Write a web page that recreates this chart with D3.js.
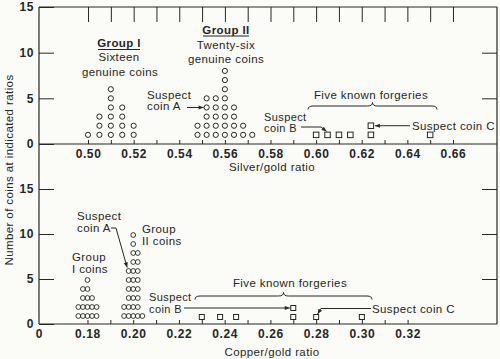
<!DOCTYPE html>
<html><head><meta charset="utf-8">
<script src="https://cdn.jsdelivr.net/npm/d3@7"></script>
<style>
body{margin:0;background:#fbfbf8}
text{font-family:"Liberation Sans",Arial,Helvetica,sans-serif;fill:#262626}
</style>
</head><body><svg id="c" width="500" height="359"></svg>
<script>
// ---------------- DATA ----------------
const countTicks = [0, 5, 10, 15];
const silverTickValues = [0.50,0.51,0.52,0.53,0.54,0.55,0.56,0.57,0.58,0.59,0.60,0.61,0.62,0.63,0.64,0.65,0.66];
const silverTickLabels = ["0.50","0.52","0.54","0.56","0.58","0.60","0.62","0.64","0.66"];
const copperTickValues = [0.18,0.19,0.20,0.21,0.22,0.23,0.24,0.25,0.26,0.27,0.28,0.29,0.30,0.31,0.32];
const copperTickLabels = ["0.18","0.20","0.22","0.24","0.26","0.28","0.30","0.32"];

// Silver/gold ratio (top panel)
const silverGroupIRatios  = [0.500, 0.505, 0.510, 0.515, 0.520];
const silverGroupICounts  = [1, 3, 6, 4, 2];
const silverGroupIIRatios = [0.548, 0.552, 0.556, 0.560, 0.564, 0.568, 0.572];
const silverGroupIICounts = [2, 5, 5, 8, 4, 2, 1];   // includes suspect coin A (0.552)
const silverForgeries     = [0.600, 0.610, 0.615, 0.624, 0.650];
const silverSuspectA = 0.552, silverSuspectB = 0.605, silverSuspectC = 0.624;

// Copper/gold ratio (bottom panel)
const copperGroupIRatios  = [0.176, 0.178, 0.180, 0.182, 0.184];
const copperGroupICounts  = [2, 4, 5, 3, 2];
const copperGroupIIRatios = [0.196, 0.198, 0.200, 0.202, 0.204];
const copperGroupIICounts = [2, 6, 10, 8, 1];        // includes suspect coin A (0.198)
const copperForgeries     = [0.230, 0.238, 0.245, 0.270, 0.300];
const copperSuspectA = 0.198, copperSuspectB = 0.270, copperSuspectC = 0.280;

// ---------------- LAYOUT ----------------
const ink = "#262626";
const L = 39, R = 497, T = 7;
const svg = d3.select("#c");

const defs = svg.append("defs");
defs.append("marker").attr("id","ah").attr("viewBox","0 0 6 6")
  .attr("refX",6).attr("refY",3).attr("markerWidth",6).attr("markerHeight",5)
  .attr("markerUnits","userSpaceOnUse").attr("orient","auto")
  .append("path").attr("d","M0,0.5 L6,3 L0,5.5 z").attr("fill",ink);

const xS = d3.scaleLinear().domain([0.4785, 0.6793]).range([L, R]);
const yS = d3.scaleLinear().domain([0, 15]).range([144, T]);
const xC = d3.scaleLinear().domain([0.1588, 0.3591]).range([L, R]);
const yC = d3.scaleLinear().domain([0, 15]).range([324, 189]);

function fmtLabel(labels){ return d => { const s = d.toFixed(2); return labels.includes(s) ? s : ""; }; }

function styleAxis(g){
  g.select(".domain").remove();
  g.selectAll(".tick line").attr("stroke", ink).attr("stroke-width", 1);
  g.selectAll(".tick text").style("font-family","'Liberation Sans',Arial,sans-serif")
    .style("font-weight","bold").style("font-size","12px").attr("fill", ink)
    .style("letter-spacing","0.6px");
}

// frame lines
const frame = svg.append("g").attr("stroke", ink).attr("stroke-width", 1.2).attr("fill","none");
frame.append("line").attr("x1",L).attr("x2",L).attr("y1",T).attr("y2",yC(0));
frame.append("line").attr("x1",R).attr("x2",R).attr("y1",T).attr("y2",yC(0));
frame.append("line").attr("x1",L).attr("x2",R).attr("y1",T).attr("y2",T);
frame.append("line").attr("x1",L).attr("x2",R).attr("y1",yS(0)).attr("y2",yS(0));
frame.append("line").attr("x1",L).attr("x2",R).attr("y1",yC(0)).attr("y2",yC(0));

// ---- top panel axes
svg.append("g").attr("transform",`translate(0,${T})`)
  .call(d3.axisTop(xS).tickValues(silverTickValues).tickSize(-15).tickFormat(""))
  .call(styleAxis);
svg.append("g").attr("transform",`translate(0,${yS(0)})`)
  .call(d3.axisBottom(xS).tickValues(silverTickValues).tickSizeInner(-4).tickSizeOuter(0).tickPadding(5)
    .tickFormat(fmtLabel(silverTickLabels)))
  .call(styleAxis);
svg.append("g").attr("transform",`translate(${L},0)`)
  .call(d3.axisLeft(yS).tickValues(countTicks).tickSizeInner(-15).tickSizeOuter(0).tickPadding(5))
  .call(styleAxis);
svg.append("g").attr("transform",`translate(${R},0)`)
  .call(d3.axisRight(yS).tickValues(countTicks.slice(1,3)).tickSizeInner(-15).tickSizeOuter(0).tickFormat(""))
  .call(styleAxis);

// ---- bottom panel axes
svg.append("g").attr("transform",`translate(0,${yC(0)})`)
  .call(d3.axisBottom(xC).tickValues(copperTickValues).tickSizeInner(-4).tickSizeOuter(0).tickPadding(5)
    .tickFormat(fmtLabel(copperTickLabels)))
  .call(styleAxis);
svg.append("g").attr("transform",`translate(${L},0)`)
  .call(d3.axisLeft(yC).tickValues(countTicks).tickSizeInner(-15).tickSizeOuter(0).tickPadding(5))
  .call(styleAxis);
svg.append("g").attr("transform",`translate(${R},0)`)
  .call(d3.axisRight(yC).tickValues(countTicks.slice(1)).tickSizeInner(-15).tickSizeOuter(0).tickFormat(""))
  .call(styleAxis);
// broken-axis origin label
svg.append("text").attr("x",L).attr("y",yC(0)+14).attr("text-anchor","middle")
  .style("font-weight","bold").style("font-size","12px").text("0");

// ---------------- MARKS ----------------
function columns(ratios, counts){
  const out = [];
  ratios.forEach((r,i) => { for (let k=1;k<=counts[i];k++) out.push({r, k}); });
  return out;
}
function squares(forg, suspects){
  const out = [], lvl = {};
  forg.concat(suspects).forEach(r => { const key=r.toFixed(3); lvl[key]=(lvl[key]||0)+1; out.push({r,k:lvl[key]}); });
  return out;
}

const dotsTop = columns(silverGroupIRatios, silverGroupICounts).concat(columns(silverGroupIIRatios, silverGroupIICounts));
svg.append("g").selectAll("circle").data(dotsTop).join("circle")
  .attr("cx", d=>xS(d.r)).attr("cy", d=>yS(d.k)).attr("r", 2.6)
  .attr("fill","none").attr("stroke",ink).attr("stroke-width",1);

const sqTop = squares(silverForgeries, [silverSuspectB, silverSuspectC]);
const sqT = 5.5;
svg.append("g").selectAll("rect").data(sqTop).join("rect")
  .attr("x", d=>xS(d.r)-sqT/2).attr("y", d=>yS(d.k)-sqT/2).attr("width",sqT).attr("height",sqT)
  .attr("fill","none").attr("stroke",ink).attr("stroke-width",1);

const dotsBot = columns(copperGroupIRatios, copperGroupICounts).concat(columns(copperGroupIIRatios, copperGroupIICounts));
svg.append("g").selectAll("circle").data(dotsBot).join("circle")
  .attr("cx", d=>xC(d.r)).attr("cy", d=>yC(d.k)+1).attr("r", 2.4)
  .attr("fill","none").attr("stroke",ink).attr("stroke-width",0.9);

const sqBot = squares(copperForgeries, [copperSuspectB, copperSuspectC]);
const sqB = 5;
svg.append("g").selectAll("rect").data(sqBot).join("rect")
  .attr("x", d=>xC(d.r)-sqB/2).attr("y", d=>yC(d.k)+2-sqB/2).attr("width",sqB).attr("height",sqB)
  .attr("fill","none").attr("stroke",ink).attr("stroke-width",1);

// ---------------- TEXT / ANNOTATIONS ----------------
function txt(x,y,s,opt={}){
  return svg.append("text").attr("x",x).attr("y",y).text(s)
    .attr("text-anchor", opt.anchor||"start")
    .style("font-size", (opt.size||11.5)+"px")
    .style("font-weight", opt.bold?"bold":"normal")
    .style("letter-spacing", (opt.ls!=null?opt.ls:0.4)+"px");
}
function line(pts, arrow){
  const p = svg.append("path").attr("d", d3.line()(pts)).attr("fill","none")
    .attr("stroke",ink).attr("stroke-width",1);
  if (arrow) p.attr("marker-end","url(#ah)");
  return p;
}
function brace(x1,x2,y,h){
  const xm=(x1+x2)/2;
  const d=`M${x1},${y+h} Q${x1},${y} ${x1+5},${y} L${xm-5},${y} Q${xm},${y} ${xm},${y-h} Q${xm},${y} ${xm+5},${y} L${x2-5},${y} Q${x2},${y} ${x2},${y+h}`;
  svg.append("path").attr("d",d).attr("fill","none").attr("stroke",ink).attr("stroke-width",1);
}

// axis titles
txt(272,171,"Silver/gold ratio",{anchor:"middle",size:11.5});
txt(272,356,"Copper/gold ratio",{anchor:"middle",size:11.5});
svg.append("text").attr("transform","translate(13,170) rotate(-90)").attr("text-anchor","middle")
  .style("font-size","11.5px").style("letter-spacing","0.4px").text("Number of coins at indicated ratios");

// top panel
txt(119,47,"Group I",{anchor:"middle",bold:true});
line([[98,49.5],[140,49.5]]);
txt(119,61,"Sixteen",{anchor:"middle"});
txt(120,76,"genuine coins",{anchor:"middle"});
txt(226,33.5,"Group II",{anchor:"middle",bold:true});
line([[203,36],[249,36]]);
txt(226,48.5,"Twenty-six",{anchor:"middle"});
txt(226,63,"genuine coins",{anchor:"middle"});
txt(147,98.5,"Suspect");
txt(147,110,"coin A");
line([[187,yS(4)],[xS(silverSuspectA)-3,yS(4)]], true);
txt(371,99,"Five known forgeries",{anchor:"middle"});
brace(308,437,106,3.5);
txt(264,120.5,"Suspect",{size:11});
txt(264,131.5,"coin B",{size:11});
line([[301,127],[321,127],[xS(silverSuspectB)-1,yS(1)-3.5]], true);
txt(412,129.5,"Suspect coin C");
line([[410,yS(2)],[xS(silverSuspectC)+4,yS(2)]], true);

// bottom panel
txt(77,220,"Suspect");
txt(77,232,"coin A");
line([[111,228],[116,228],[xC(copperSuspectA)-1.5,yC(6)-2.5]], true);
txt(142,232.5,"Group");
txt(142,245,"II coins");
txt(89,261,"Group",{anchor:"middle"});
txt(90,273,"I coins",{anchor:"middle"});
txt(290,287,"Five known forgeries",{anchor:"middle"});
brace(195,372,296,3.5);
txt(149,300.5,"Suspect",{size:11});
txt(149,312.5,"coin B",{size:11});
line([[184,yC(2)+2],[xC(copperSuspectB)-3.5,yC(2)+2]], true);
txt(372,312.5,"Suspect coin C");
line([[371,308.5],[321,308.5],[xC(copperSuspectC)+1.5,yC(1)+2-3]], true);
</script>
</body></html>
